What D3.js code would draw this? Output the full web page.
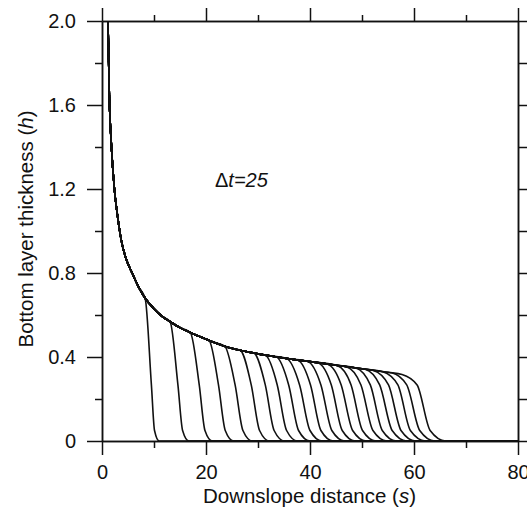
<!DOCTYPE html>
<html><head><meta charset="utf-8">
<script src="https://cdn.jsdelivr.net/npm/d3@7"></script>
<style>body{margin:0;background:#fff}svg{display:block}</style>
</head><body><svg id="c" width="527" height="511"></svg>
<script>
// Envelope (upper bounding profile)
const envS = [1.15, 1.4, 1.8, 2.4, 3.0, 3.7, 4.6, 5.8, 7.0, 8.3, 10.0, 11.5, 13.1, 15.0, 17.3, 19.0, 21.2, 24.7, 28.5, 32.4, 36.0, 40.0, 45.0, 50.0, 55.0, 57.7];
const envH = [2.0, 1.65, 1.41, 1.195, 1.07, 0.957, 0.87, 0.80, 0.735, 0.68, 0.63, 0.595, 0.568, 0.54, 0.513, 0.495, 0.473, 0.443, 0.422, 0.405, 0.391, 0.378, 0.361, 0.344, 0.327, 0.317];
// Front of each profile (one every dt = 25)
const frontTopS  = [8.3, 13.1, 17.0, 20.6, 23.6, 26.6, 29.2, 31.4, 33.5, 35.5, 37.6, 39.5, 41.5, 43.3, 45.2, 47.0, 48.8, 50.6, 52.2, 54.0, 55.7, 57.7];
const frontTopH  = [0.68, 0.568, 0.516, 0.479, 0.452, 0.432, 0.419, 0.409, 0.401, 0.393, 0.386, 0.380, 0.373, 0.367, 0.360, 0.354, 0.348, 0.342, 0.336, 0.330, 0.325, 0.317];
const frontMidS  = [9.5, 14.6, 18.7, 22.4, 25.6, 28.7, 31.4, 33.7, 35.9, 38.0, 40.1, 42.1, 44.1, 46.0, 47.9, 49.8, 51.6, 53.4, 55.1, 56.9, 58.6, 60.6];
const frontLowS  = [10.1, 15.5, 19.8, 23.7, 27.1, 30.3, 33.1, 35.5, 37.8, 40.0, 42.1, 44.2, 46.2, 48.2, 50.1, 52.1, 53.9, 55.8, 57.5, 59.3, 61.1, 63.1];
const frontFootS = [11.0, 16.7, 21.2, 25.3, 28.9, 32.2, 35.1, 37.6, 40.0, 42.3, 44.5, 46.7, 48.7, 50.8, 52.7, 54.8, 56.6, 58.6, 60.3, 62.2, 64.0, 66.1];
const midH = 0.267, lowH = 0.05;
const xMajor = [0, 20, 40, 60, 80], xMinor = [10, 30, 50, 70];
const xLabels = ["0", "20", "40", "60", "80"];
const yMajor = [0, 0.4, 0.8, 1.2, 1.6, 2.0], yMinor = [0.2, 0.6, 1.0, 1.4, 1.8];
const yLabels = ["0", "0.4", "0.8", "1.2", "1.6", "2.0"];
const annotation = "t=25";

const L = 102, R = 518, T = 21, B = 441;
const svg = d3.select("#c");
const x = d3.scaleLinear().domain([0, 80]).range([L, R]);
const y = d3.scaleLinear().domain([0, 2]).range([B, T]);
const font = "'Liberation Sans', Arial, Helvetica, sans-serif";

function styleAxis(g) {
  g.selectAll("path,line").attr("stroke", "#111").attr("stroke-width", 1.5);
  g.selectAll("text").attr("fill", "#111").style("font-family", font).style("font-size", "20px");
}
// bottom
svg.append("g").attr("transform", `translate(0,${B})`)
  .call(d3.axisBottom(x).tickValues(xMajor).tickSize(14).tickSizeOuter(0).tickPadding(10).tickFormat((d, i) => xLabels[i]))
  .call(styleAxis);
svg.append("g").attr("transform", `translate(0,${B})`)
  .call(d3.axisBottom(x).tickValues(xMinor).tickSize(7).tickSizeOuter(0).tickFormat(""))
  .call(styleAxis);
// top
svg.append("g").attr("transform", `translate(0,${T})`)
  .call(d3.axisTop(x).tickValues(xMajor).tickSize(13).tickSizeOuter(0).tickFormat(""))
  .call(styleAxis);
svg.append("g").attr("transform", `translate(0,${T})`)
  .call(d3.axisTop(x).tickValues(xMinor).tickSize(6).tickSizeOuter(0).tickFormat(""))
  .call(styleAxis);
// left
svg.append("g").attr("transform", `translate(${L},0)`)
  .call(d3.axisLeft(y).tickValues(yMajor).tickSize(15).tickSizeOuter(0).tickPadding(11).tickFormat((d, i) => yLabels[i]))
  .call(styleAxis);
svg.append("g").attr("transform", `translate(${L},0)`)
  .call(d3.axisLeft(y).tickValues(yMinor).tickSize(7).tickSizeOuter(0).tickFormat(""))
  .call(styleAxis);
// right
svg.append("g").attr("transform", `translate(${R},0)`)
  .call(d3.axisRight(y).tickValues(yMajor).tickSize(14).tickSizeOuter(0).tickFormat(""))
  .call(styleAxis);
svg.append("g").attr("transform", `translate(${R},0)`)
  .call(d3.axisRight(y).tickValues(yMinor).tickSize(14).tickSizeOuter(0).tickFormat(""))
  .call(styleAxis);

// profiles
const line = d3.line().x(d => x(d[0])).y(d => y(d[1])).curve(d3.curveMonotoneX);
const gCurves = svg.append("g");
frontTopS.forEach((ts, i) => {
  const pts = [];
  envS.forEach((s, j) => { if (s < ts - 0.2) pts.push([s, envH[j]]); });
  pts.push([ts, frontTopH[i]]);
  pts.push([frontMidS[i], midH]);
  pts.push([frontLowS[i], lowH]);
  pts.push([frontFootS[i], 0]);
  pts.push([80, 0]);
  gCurves.append("path").attr("d", line(pts))
    .attr("fill", "none").attr("stroke", "#111").attr("stroke-width", 1.6);
});

// annotation
const ann = svg.append("text").attr("x", 215).attr("y", 187)
  .style("font-family", font).style("font-size", "20px").attr("fill", "#111");
ann.append("tspan").text("\u0394");
ann.append("tspan").style("font-style", "italic").text(annotation);

// axis titles
const xt = svg.append("text").attr("x", (L + R) / 2 - 0.5).attr("y", 503).attr("text-anchor", "middle")
  .style("font-family", font).style("font-size", "20.5px").attr("fill", "#111");
xt.append("tspan").text("Downslope distance (");
xt.append("tspan").style("font-style", "italic").text("s");
xt.append("tspan").text(")");

const yt = svg.append("text").attr("transform", `translate(33,${(T + B) / 2 - 2}) rotate(-90)`).attr("text-anchor", "middle")
  .style("font-family", font).style("font-size", "20.5px").attr("fill", "#111");
yt.append("tspan").text("Bottom layer thickness (");
yt.append("tspan").style("font-style", "italic").text("h");
yt.append("tspan").text(")");
</script></body></html>
